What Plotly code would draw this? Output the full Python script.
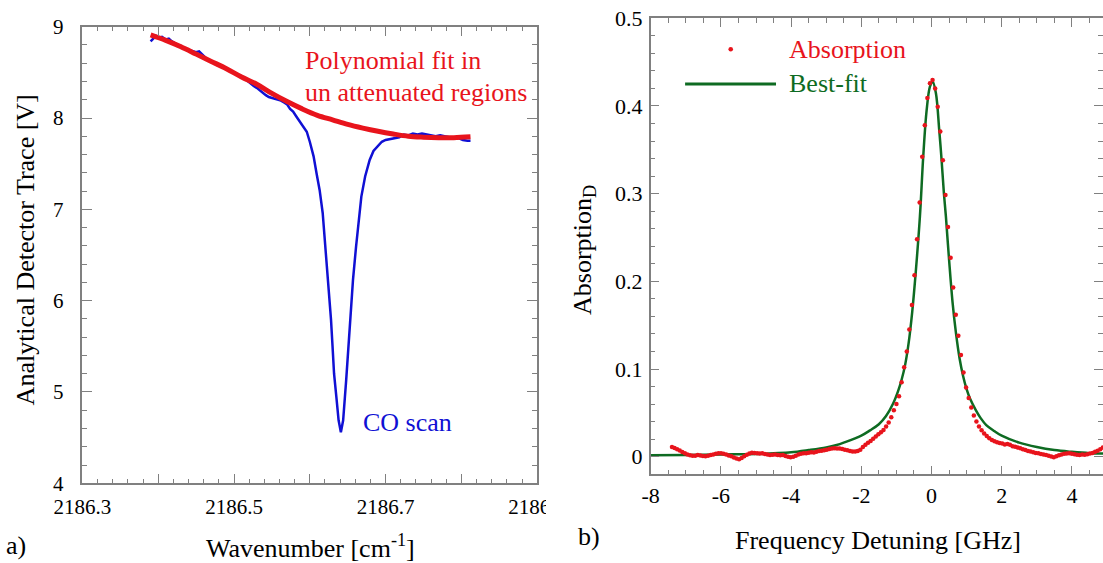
import plotly.graph_objects as go

# ---------------- Panel a) data ----------------
scan_x = [2186.390, 2186.393, 2186.397, 2186.401, 2186.405, 2186.410, 2186.414, 2186.418,
          2186.422, 2186.426, 2186.430, 2186.434, 2186.438, 2186.442, 2186.446, 2186.450,
          2186.454, 2186.458, 2186.462, 2186.466, 2186.470, 2186.474, 2186.478, 2186.482,
          2186.486, 2186.490, 2186.494, 2186.498, 2186.502, 2186.506, 2186.510, 2186.514,
          2186.518, 2186.522, 2186.526, 2186.530, 2186.534, 2186.538, 2186.542, 2186.546,
          2186.550, 2186.554, 2186.558, 2186.562, 2186.566, 2186.570, 2186.574, 2186.578,
          2186.582, 2186.587, 2186.591, 2186.596, 2186.600, 2186.605, 2186.609, 2186.613,
          2186.617, 2186.620, 2186.623, 2186.626, 2186.628, 2186.630, 2186.632, 2186.635,
          2186.638, 2186.641, 2186.644, 2186.648, 2186.651, 2186.654, 2186.657, 2186.661,
          2186.6645, 2186.668, 2186.673, 2186.679, 2186.684, 2186.690, 2186.695, 2186.700,
          2186.706, 2186.712, 2186.718, 2186.724, 2186.730, 2186.736, 2186.742, 2186.748,
          2186.754, 2186.760, 2186.766, 2186.772, 2186.778, 2186.784, 2186.790, 2186.796,
          2186.802, 2186.808, 2186.812]
scan_y = [8.84, 8.87, 8.90, 8.88, 8.89, 8.86, 8.87, 8.84,
          8.82, 8.80, 8.79, 8.76, 8.75, 8.74, 8.73, 8.72,
          8.73, 8.70, 8.66, 8.63, 8.62, 8.60, 8.58, 8.57,
          8.55, 8.54, 8.52, 8.50, 8.49, 8.47, 8.46, 8.43,
          8.40, 8.37, 8.35, 8.33, 8.30, 8.28, 8.25, 8.23,
          8.22, 8.21, 8.20, 8.19, 8.17, 8.15, 8.10, 8.07,
          8.02, 7.96, 7.91, 7.85, 7.74, 7.58, 7.39, 7.21,
          6.96, 6.66, 6.37, 6.08, 5.79, 5.50, 5.20, 4.95,
          4.69, 4.56, 4.69, 5.13, 5.50, 5.86, 6.23, 6.59,
          6.88, 7.14, 7.36, 7.54, 7.64, 7.70, 7.74, 7.76,
          7.77, 7.78, 7.79, 7.82, 7.81, 7.83, 7.82, 7.83,
          7.82, 7.81, 7.80, 7.81, 7.80, 7.79, 7.78, 7.78,
          7.76, 7.75, 7.75]

poly_x = [2186.390, 2186.410, 2186.430, 2186.450, 2186.470, 2186.490, 2186.510, 2186.530,
          2186.550, 2186.570, 2186.590, 2186.610, 2186.630, 2186.650, 2186.670, 2186.690,
          2186.710, 2186.730, 2186.750, 2186.770, 2186.790, 2186.812]
poly_y = [8.91, 8.85, 8.78, 8.70, 8.62, 8.54, 8.45, 8.37,
          8.27, 8.18, 8.10, 8.03, 7.98, 7.93, 7.89, 7.855,
          7.825, 7.80, 7.79, 7.785, 7.785, 7.795]

a_xticks = [2186.3, 2186.4, 2186.5, 2186.6, 2186.7, 2186.8, 2186.9]
a_xticktext = ["2186.3", "", "2186.5", "", "2186.7", "", "2186.9"]
a_yticks = [4, 5, 6, 7, 8, 9]

# ---------------- Panel b) data ----------------
abs_x = [-7.394, -7.320, -7.247, -7.173, -7.100, -7.026, -6.953, -6.879, -6.806, -6.732,
         -6.659, -6.585, -6.512, -6.438, -6.365, -6.291, -6.218, -6.144, -6.071, -5.997,
         -5.924, -5.850, -5.777, -5.703, -5.630, -5.556, -5.483, -5.409, -5.336, -5.262,
         -5.189, -5.115, -5.042, -4.968, -4.895, -4.821, -4.748, -4.674, -4.601, -4.527,
         -4.454, -4.380, -4.307, -4.233, -4.160, -4.086, -4.013, -3.939, -3.866, -3.792,
         -3.719, -3.645, -3.572, -3.498, -3.425, -3.351, -3.278, -3.204, -3.131, -3.057,
         -2.984, -2.910, -2.837, -2.763, -2.690, -2.616, -2.543, -2.469, -2.396, -2.322,
         -2.249, -2.175, -2.102, -2.028, -1.955, -1.881, -1.808, -1.734, -1.661, -1.587,
         -1.514, -1.440, -1.367, -1.293, -1.220, -1.146, -1.073, -0.999, -0.926, -0.852,
         -0.779, -0.705, -0.632, -0.558, -0.485, -0.411, -0.338, -0.264, -0.191, -0.117,
         -0.044, 0.030, 0.104, 0.177, 0.251, 0.324, 0.398, 0.471, 0.545, 0.618,
         0.692, 0.765, 0.839, 0.912, 0.986, 1.059, 1.133, 1.206, 1.280, 1.353,
         1.427, 1.500, 1.574, 1.647, 1.721, 1.794, 1.868, 1.941, 2.015, 2.088,
         2.162, 2.235, 2.309, 2.382, 2.456, 2.529, 2.603, 2.676, 2.750, 2.823,
         2.897, 2.970, 3.044, 3.117, 3.191, 3.264, 3.338, 3.411, 3.485, 3.558,
         3.632, 3.705, 3.779, 3.852, 3.926, 3.999, 4.073, 4.146, 4.220, 4.293,
         4.367, 4.440, 4.514, 4.587, 4.661, 4.734, 4.808, 4.881, 4.955]
abs_y = [0.0110, 0.0098, 0.0085, 0.0070, 0.0052, 0.0038, 0.0024, 0.0015, 0.0010, 0.0012,
         0.0018, 0.0014, 0.0008, 0.0006, 0.0012, 0.0020, 0.0026, 0.0032, 0.0038, 0.0040,
         0.0034, 0.0026, 0.0014, 0.0005, -0.0008, -0.0020, -0.0030, -0.0016, 0.0005, 0.0022,
         0.0036, 0.0045, 0.0042, 0.0040, 0.0036, 0.0038, 0.0030, 0.0026, 0.0020, 0.0022,
         0.0026, 0.0020, 0.0016, 0.0018, 0.0008, 0.0000, -0.0006, 0.0000, 0.0012, 0.0024,
         0.0032, 0.0038, 0.0040, 0.0046, 0.0050, 0.0048, 0.0056, 0.0064, 0.0068, 0.0072,
         0.0080, 0.0088, 0.0094, 0.0096, 0.0092, 0.0094, 0.0088, 0.0080, 0.0072, 0.0066,
         0.0060, 0.0058, 0.0064, 0.0080, 0.0110, 0.0135, 0.0160, 0.0180, 0.0205, 0.0230,
         0.0255, 0.0280, 0.0305, 0.0345, 0.0390, 0.0450, 0.0530, 0.0600, 0.0690, 0.0850,
         0.1020, 0.1200, 0.1450, 0.1730, 0.2070, 0.2480, 0.2900, 0.3420, 0.3780, 0.4090,
         0.4260, 0.4297, 0.4200, 0.3990, 0.3710, 0.3380, 0.2985, 0.2620, 0.2270, 0.1930,
         0.1620, 0.1380, 0.1160, 0.0960, 0.0790, 0.0670, 0.0560, 0.0470, 0.0400, 0.0345,
         0.0300, 0.0265, 0.0235, 0.0210, 0.0190, 0.0175, 0.0165, 0.0155, 0.0150, 0.0140,
         0.0145, 0.0135, 0.0120, 0.0112, 0.0105, 0.0095, 0.0085, 0.0075, 0.0065, 0.0058,
         0.0050, 0.0042, 0.0038, 0.0030, 0.0024, 0.0018, 0.0010, 0.0002, -0.0007, 0.0004,
         0.0016, 0.0026, 0.0032, 0.0036, 0.0040, 0.0034, 0.0028, 0.0022, 0.0020, 0.0024,
         0.0022, 0.0028, 0.0036, 0.0042, 0.0055, 0.0068, 0.0085, 0.0105, 0.0120]

fit_x = [-8.0, -7.0, -6.0, -5.0, -4.5, -4.0, -3.5, -3.0, -2.7, -2.5, -2.0, -1.75, -1.5,
         -1.3, -1.1, -0.95, -0.85, -0.75, -0.65, -0.55, -0.45, -0.33, -0.236, -0.139,
         -0.045, 0.032, 0.126, 0.22, 0.288, 0.354, 0.41, 0.5, 0.6, 0.7, 0.8, 0.9, 1.0,
         1.1, 1.25, 1.4, 1.56, 1.8, 2.0, 2.5, 3.0, 3.5, 4.0, 4.5, 4.9]
fit_y = [0.0015, 0.0020, 0.0025, 0.0030, 0.0039, 0.0050, 0.0075, 0.0105, 0.0133, 0.0160,
         0.0240, 0.0300, 0.0370, 0.0460, 0.0600, 0.0750, 0.0880, 0.1050, 0.1300, 0.1650,
         0.2100, 0.2740, 0.3420, 0.3950, 0.4220, 0.4280, 0.4145, 0.3727, 0.3380, 0.3000,
         0.2740, 0.2250, 0.1760, 0.1400, 0.1120, 0.0920, 0.0770, 0.0660, 0.0540, 0.0440,
         0.0360, 0.0290, 0.0240, 0.0160, 0.0110, 0.0075, 0.0055, 0.0040, 0.0035]

b_xticks = [-8, -6, -4, -2, 0, 2, 4]
b_xticktext = ["-8", "-6", "-4", "-2", "0", "2", "4"]
b_yticks = [0, 0.1, 0.2, 0.3, 0.4, 0.5]
b_yticktext = ["0", "0.1", "0.2", "0.3", "0.4", "0.5"]

# ---------------- styling ----------------
W, H = 1103, 563
FONT = "'Liberation Serif', 'Times New Roman', Times, serif"
GRAY = "#808080"
BLUE = "#1010d4"
RED = "#e8141c"
GREEN = "#0e6b22"


def px(x):
    return x / W


def py(y):
    return 1 - y / H


fig = go.Figure()
fig.add_trace(go.Scatter(x=scan_x, y=scan_y, mode="lines", line=dict(color=BLUE, width=2.5),
                         xaxis="x", yaxis="y", showlegend=False))
fig.add_trace(go.Scatter(x=poly_x, y=poly_y, mode="lines", line=dict(color=RED, width=5, shape="spline"),
                         xaxis="x", yaxis="y", showlegend=False))
fig.add_trace(go.Scatter(x=fit_x, y=fit_y, mode="lines", line=dict(color=GREEN, width=2.5, shape="spline"),
                         xaxis="x2", yaxis="y2", showlegend=False))
fig.add_trace(go.Scatter(x=abs_x, y=abs_y, mode="markers", marker=dict(color=RED, size=4.5, line=dict(width=0)),
                         xaxis="x2", yaxis="y2", showlegend=False))

axis_common = dict(showline=True, linecolor=GRAY, linewidth=1.5, mirror="ticks", ticks="inside",
                   tickcolor=GRAY, tickwidth=1.3, showgrid=False, zeroline=False, automargin=False,
                   tickfont=dict(family=FONT, size=21, color="black"))

fig.update_layout(
    width=W, height=H, autosize=False,
    margin=dict(l=0, r=0, t=0, b=0, pad=0, autoexpand=False),
    showlegend=False,
    paper_bgcolor="white", plot_bgcolor="white",
    font=dict(family=FONT),
    xaxis=dict(axis_common, domain=[px(82.4), px(537.2)], range=[2186.3, 2186.9],
               tickmode="array", tickvals=a_xticks, ticktext=a_xticktext, ticklen=10,
               ticklabelstandoff=4, anchor="y",
               minor=dict(tickmode="linear", tick0=2186.3, dtick=0.02, ticks="inside", ticklen=5,
                          tickcolor=GRAY, tickwidth=1.3, showgrid=False)),
    yaxis=dict(axis_common, domain=[py(483.3), py(26.7)], range=[4, 9],
               tickmode="array", tickvals=a_yticks, ticklen=10, ticklabelstandoff=13, anchor="x",
               minor=dict(tickmode="linear", tick0=4, dtick=0.2, ticks="inside", ticklen=5,
                          tickcolor=GRAY, tickwidth=1.3, showgrid=False)),
    xaxis2=dict(axis_common, domain=[px(650.7), 1.0], range=[-8, 4.886],
                tickmode="array", tickvals=b_xticks, ticktext=b_xticktext, ticklen=9,
                ticklabelstandoff=1, anchor="y2",
                tickfont=dict(family=FONT, size=22, color="black"),
                minor=dict(tickmode="linear", tick0=0, dtick=0.5, ticks="inside", ticklen=5,
                           tickcolor=GRAY, tickwidth=1.3, showgrid=False)),
    yaxis2=dict(axis_common, domain=[py(474.3), py(18.3)], range=[-0.0201, 0.5],
                tickmode="array", tickvals=b_yticks, ticktext=b_yticktext, ticklen=9,
                ticklabelstandoff=2, anchor="x2",
                tickfont=dict(family=FONT, size=22, color="black"),
                minor=dict(tickmode="linear", tick0=0, dtick=0.02, ticks="inside", ticklen=5,
                           tickcolor=GRAY, tickwidth=1.3, showgrid=False)),
)

ann = []
tf = dict(family=FONT, size=26, color="black")
ann.append(dict(text="Analytical Detector Trace [V]", x=px(25), y=py(250.4), xref="paper", yref="paper",
                textangle=-90, showarrow=False, font=tf, xanchor="center", yanchor="middle"))
ann.append(dict(text="Wavenumber [cm<sup>-1</sup>]", x=px(310), y=py(546), xref="paper", yref="paper",
                showarrow=False, font=tf, xanchor="center", yanchor="middle"))
ann.append(dict(text="Absorption<sub>D</sub>", x=px(584), y=py(250), xref="paper", yref="paper",
                textangle=-90, showarrow=False, font=tf, xanchor="center", yanchor="middle"))
ann.append(dict(text="Frequency Detuning [GHz]", x=px(878.3), y=py(540), xref="paper", yref="paper",
                showarrow=False, font=tf, xanchor="center", yanchor="middle"))
ann.append(dict(text="a)", x=px(4), y=py(545), xref="paper", yref="paper",
                showarrow=False, font=tf, xanchor="left", yanchor="middle"))
ann.append(dict(text="b)", x=px(576), y=py(536), xref="paper", yref="paper",
                showarrow=False, font=tf, xanchor="left", yanchor="middle"))
ann.append(dict(text="Polynomial fit in", x=2186.5906, y=8.633, xref="x", yref="y",
                showarrow=False, font=dict(family=FONT, size=26, color=RED), xanchor="left", yanchor="middle"))
ann.append(dict(text="un attenuated regions", x=2186.5906, y=8.278, xref="x", yref="y",
                showarrow=False, font=dict(family=FONT, size=26, color=RED), xanchor="left", yanchor="middle"))
ann.append(dict(text="CO scan", x=2186.667, y=4.664, xref="x", yref="y",
                showarrow=False, font=dict(family=FONT, size=26, color=BLUE), xanchor="left", yanchor="middle"))
ann.append(dict(text="Absorption", x=-4.13, y=0.4647, xref="x2", yref="y2",
                showarrow=False, font=dict(family=FONT, size=26, color=RED), xanchor="left", yanchor="middle"))
ann.append(dict(text="Best-fit", x=-4.13, y=0.4251, xref="x2", yref="y2",
                showarrow=False, font=dict(family=FONT, size=26, color=GREEN), xanchor="left", yanchor="middle"))
fig.update_layout(annotations=ann)

shapes = [
    # legend sample line and dot for panel b
    dict(type="line", xref="x2", yref="y2", x0=-7.02, x1=-4.43, y0=0.4251, y1=0.4251,
         line=dict(color=GREEN, width=3)),
    dict(type="circle", xref="x2", yref="y2", xsizemode="pixel", ysizemode="pixel",
         xanchor=-5.72, yanchor=0.4647, x0=-2.3, x1=2.3, y0=-2.3, y1=2.3,
         fillcolor=RED, line=dict(width=0)),
    # the last tick label of panel a is cut off by panel b in the original
    dict(type="rect", xref="paper", yref="paper", x0=px(546), x1=px(600), y0=py(522), y1=py(492),
         fillcolor="white", line=dict(width=0), layer="above"),
]
fig.update_layout(shapes=shapes)

fig.write_html("out.html")
